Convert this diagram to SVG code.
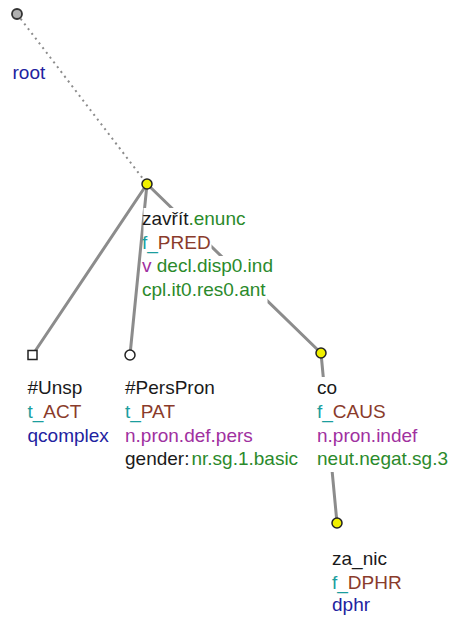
<svg xmlns="http://www.w3.org/2000/svg" width="450" height="620" viewBox="0 0 450 620">
<style>
text{font-family:"Liberation Sans",Arial,sans-serif;font-size:19px}
.k{fill:#1a1a1a}.g{fill:#2b8a2b}.t{fill:#1b9e9e}.b{fill:#8a3b2b}.p{fill:#a030a0}.u{fill:#2222a0}
.e{stroke:#8c8c8c;stroke-width:3;fill:none;stroke-linecap:round}
.d{stroke:#8c8c8c;stroke-width:2;fill:none;stroke-dasharray:2 4}
.y{fill:#f0f000;stroke:#222;stroke-width:1.5}
.w{fill:#fff;stroke:#222;stroke-width:1.5}
.m{fill:#fff}
</style>
<rect width="450" height="620" fill="#fff"/>
<g id="connectors">
<line class="d" x1="17" y1="14" x2="147" y2="184"/>
<line class="e" x1="147" y1="184" x2="32.5" y2="355"/>
<line class="e" x1="147" y1="184" x2="130" y2="355"/>
<line class="e" x1="147" y1="184" x2="321" y2="353"/>
<line class="e" x1="321" y1="353" x2="337" y2="523"/>
</g>
<g id="root">
<circle cx="17" cy="14" r="5" fill="#b0b0b0" stroke="#333" stroke-width="1.8"/>
<text x="12.5" y="79" class="u">root</text>
</g>
<g id="zavrit">
<rect class="m" x="143.5" y="208" width="104" height="24"/>
<rect class="m" x="143.5" y="232" width="68" height="24"/>
<rect class="m" x="143.5" y="256" width="131" height="24"/>
<rect class="m" x="143.5" y="280" width="124" height="23"/>
<circle class="y" cx="147" cy="184" r="5"/>
<text x="142" y="225"><tspan class="k">zavřít</tspan><tspan class="g">.enunc</tspan></text>
<text x="142" y="248.5"><tspan class="t">f_</tspan><tspan class="b">PRED</tspan></text>
<text x="142" y="272"><tspan class="p">v</tspan><tspan class="g"> decl.disp0.ind</tspan></text>
<text x="142" y="295.5" class="g">cpl.it0.res0.ant</text>
</g>
<g id="unsp">
<rect class="w" x="28" y="350.5" width="9" height="9"/>
<text x="27.5" y="394" class="k">#Unsp</text>
<text x="27.5" y="418"><tspan class="t">t_</tspan><tspan class="b">ACT</tspan></text>
<text x="27.5" y="441.5" class="u">qcomplex</text>
</g>
<g id="perspron">
<circle class="w" cx="130" cy="355" r="5"/>
<text x="125" y="394" class="k">#PersPron</text>
<text x="125" y="418"><tspan class="t">t_</tspan><tspan class="b">PAT</tspan></text>
<text x="125" y="441.5" class="p">n.pron.def.pers</text>
<text x="125" y="465"><tspan class="k">gender:</tspan><tspan class="g" dx="2">nr.sg.1.basic</tspan></text>
</g>
<g id="co">
<rect class="m" x="316" y="377" width="24" height="24"/>
<rect class="m" x="316" y="401" width="71" height="24"/>
<rect class="m" x="316" y="425" width="102" height="24"/>
<rect class="m" x="316" y="449" width="133" height="23"/>
<circle class="y" cx="321" cy="353" r="5"/>
<text x="317" y="394" class="k">co</text>
<text x="317" y="418"><tspan class="t">f_</tspan><tspan class="b">CAUS</tspan></text>
<text x="317" y="441.5" class="p">n.pron.indef</text>
<text x="317" y="465" class="g">neut.negat.sg.3</text>
</g>
<g id="za_nic">
<circle class="y" cx="337" cy="523" r="5"/>
<text x="332" y="565" class="k">za_nic</text>
<text x="332" y="588.5"><tspan class="t">f_</tspan><tspan class="b">DPHR</tspan></text>
<text x="332" y="611" class="u">dphr</text>
</g>
</svg>
